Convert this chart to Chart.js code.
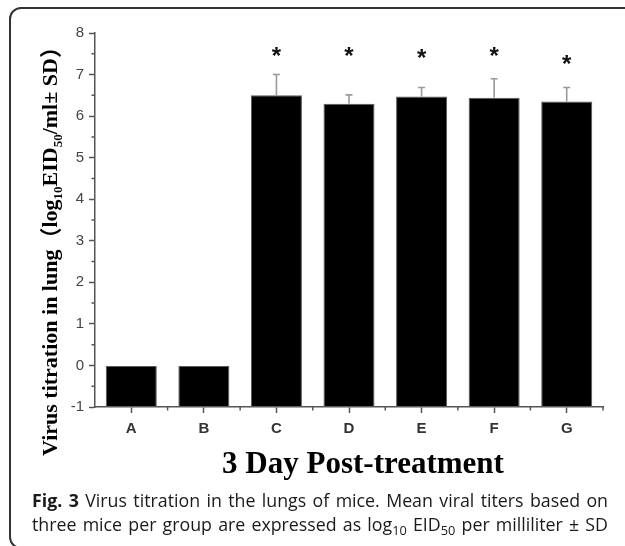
<!DOCTYPE html>
<html><head><meta charset="utf-8">
<script src="https://cdn.jsdelivr.net/npm/chart.js@4.4.0/dist/chart.umd.min.js"></script>
<style>
html,body{margin:0;padding:0;background:#fff;width:625px;height:546px;overflow:hidden;position:relative}
#frame{position:absolute;left:9px;top:7px;width:640px;height:542px;border:2px solid #333;border-radius:12px;box-sizing:border-box}
#wrap{position:absolute;left:0;top:0;width:625px;height:546px}
#cap{position:absolute;left:32px;top:488px;width:576px;font-family:"Open Sans";font-size:17.8px;line-height:24px;color:#1a1a1a}
#cap div{text-align:justify;text-align-last:justify;white-space:nowrap}
#cap sub{font-size:0.72em;line-height:0;vertical-align:-0.28em}
</style></head>
<body>
<div id="frame"></div>
<div id="wrap"><canvas id="c" width="625" height="546"></canvas></div>
<div id="cap">
<div><b>Fig. 3</b> Virus titration in the lungs of mice. Mean viral titers based on</div>
<div>three mice per group are expressed as log<sub>10</sub> EID<sub>50</sub> per milliliter ± SD</div>
</div>
<script>
const categories = ['A','B','C','D','E','F','G'];
const meanTiters = [0, 0, 6.50, 6.30, 6.47, 6.44, 6.35];
const sdValues   = [0, 0, 0.50, 0.21, 0.22, 0.46, 0.34];
const starLevels = [null, null, 7.56, 7.56, 7.50, 7.56, 7.36];
const yTicks = [-1, 0, 1, 2, 3, 4, 5, 6, 7, 8];
const xTitle = '3 Day Post-treatment';
const yTitleParts = [
  {t:'Virus titration in lung'}, {t:'（', cjk:true}, {t:'log'}, {t:'10', sub:true},
  {t:'EID'}, {t:'50', sub:true}, {t:'/ml± SD'}, {t:'）', cjk:true}
];

const yMin = yTicks[0], yMax = yTicks[yTicks.length-1];
const AXIS = '#555';

const extras = {
  id:'extras',
  afterDatasetsDraw(chart){
    const ctx = chart.ctx, ys = chart.scales.y;
    const meta = chart.getDatasetMeta(0);
    ctx.save();
    ctx.strokeStyle = '#9a9a9a'; ctx.lineWidth = 1.6;
    meta.data.forEach((el,i)=>{
      if(!sdValues[i]) return;
      const top = ys.getPixelForValue(meanTiters[i]+sdValues[i]);
      ctx.beginPath();
      ctx.moveTo(el.x, el.y); ctx.lineTo(el.x, top);
      ctx.moveTo(el.x-3.5, top); ctx.lineTo(el.x+3.5, top);
      ctx.stroke();
    });
    ctx.fillStyle = '#111';
    ctx.font = 'bold 24px "Liberation Sans"';
    ctx.textAlign = 'center'; ctx.textBaseline = 'alphabetic';
    const m = ctx.measureText('*');
    const off = (m.actualBoundingBoxAscent - m.actualBoundingBoxDescent)/2;
    meta.data.forEach((el,i)=>{
      if(starLevels[i]==null) return;
      ctx.fillText('*', el.x, ys.getPixelForValue(starLevels[i]) + off);
    });
    ctx.restore();
  },
  afterDraw(chart){
    const ctx = chart.ctx, ys = chart.scales.y, xs = chart.scales.x, a = chart.chartArea;
    ctx.save();
    ctx.strokeStyle = AXIS; ctx.lineWidth = 1.5;
    ctx.beginPath();
    for(let v = yMin+0.5; v < yMax; v += 1){
      const y = ys.getPixelForValue(v);
      ctx.moveTo(a.left-3.5, y); ctx.lineTo(a.left, y);
    }
    for(let i = 0; i < categories.length; i++){
      const x = (i < categories.length-1) ? (xs.getPixelForValue(i)+xs.getPixelForValue(i+1))/2 : a.right;
      ctx.moveTo(x, a.bottom); ctx.lineTo(x, a.bottom+3.5);
    }
    ctx.stroke();
    ctx.fillStyle = '#000';
    ctx.font = 'bold 31px "Liberation Serif"';
    ctx.textAlign = 'center'; ctx.textBaseline = 'alphabetic';
    ctx.fillText(xTitle, (a.left+a.right)/2 + 14, a.bottom + 66);
    const mainF = 'bold 22px "Liberation Serif"', subF = 'bold 13px "Liberation Serif"', cjkF = 'bold 22px "Noto Sans CJK SC"';
    const fontOf = p => p.sub ? subF : (p.cjk ? cjkF : mainF);
    let total = 0;
    yTitleParts.forEach(p=>{ ctx.font = fontOf(p); p.w = ctx.measureText(p.t).width; total += p.w; });
    const cy = (a.top+a.bottom)/2 + 26, bx = 57;
    ctx.translate(bx, cy); ctx.rotate(-Math.PI/2);
    ctx.textAlign = 'left';
    let x = -total/2;
    yTitleParts.forEach(p=>{
      ctx.font = fontOf(p);
      ctx.fillText(p.t, x, p.sub ? 5 : (p.cjk ? 1 : 0));
      x += p.w;
    });
    ctx.restore();
  }
};

new Chart(document.getElementById('c'), {
  type:'bar',
  data:{ labels: categories, datasets:[{
    data: meanTiters.map(v=>[yMin, v]),
    backgroundColor:'#000', borderColor:'#5a5a5a', borderWidth:1, borderSkipped:false,
    barPercentage:0.703, categoryPercentage:1
  }]},
  options:{
    responsive:false, animation:false, devicePixelRatio:1,
    layout:{padding:{top:33, right:22, left:0, bottom:0}},
    plugins:{legend:{display:false}, tooltip:{enabled:false}},
    scales:{
      x:{
        offset:true,
        border:{color:AXIS, width:1.5},
        grid:{display:true, drawOnChartArea:false, offset:false, tickLength:6, tickColor:AXIS, tickWidth:1.5},
        ticks:{font:{family:'"Liberation Sans"', size:15, weight:'bold'}, color:'#333', padding:7, maxRotation:0},
        afterFit: s => { s.height = 139; }
      },
      y:{
        min:yMin, max:yMax,
        afterBuildTicks: s => { s.ticks = yTicks.map(v=>({value:v})); },
        border:{color:AXIS, width:1.5},
        grid:{display:true, drawOnChartArea:false, tickLength:6, tickColor:AXIS, tickWidth:1.5},
        ticks:{font:{family:'"Liberation Sans"', size:15}, color:'#444', padding:5},
        afterFit: s => { s.width = 95; }
      }
    }
  },
  plugins:[extras]
});
</script>
</body></html>
